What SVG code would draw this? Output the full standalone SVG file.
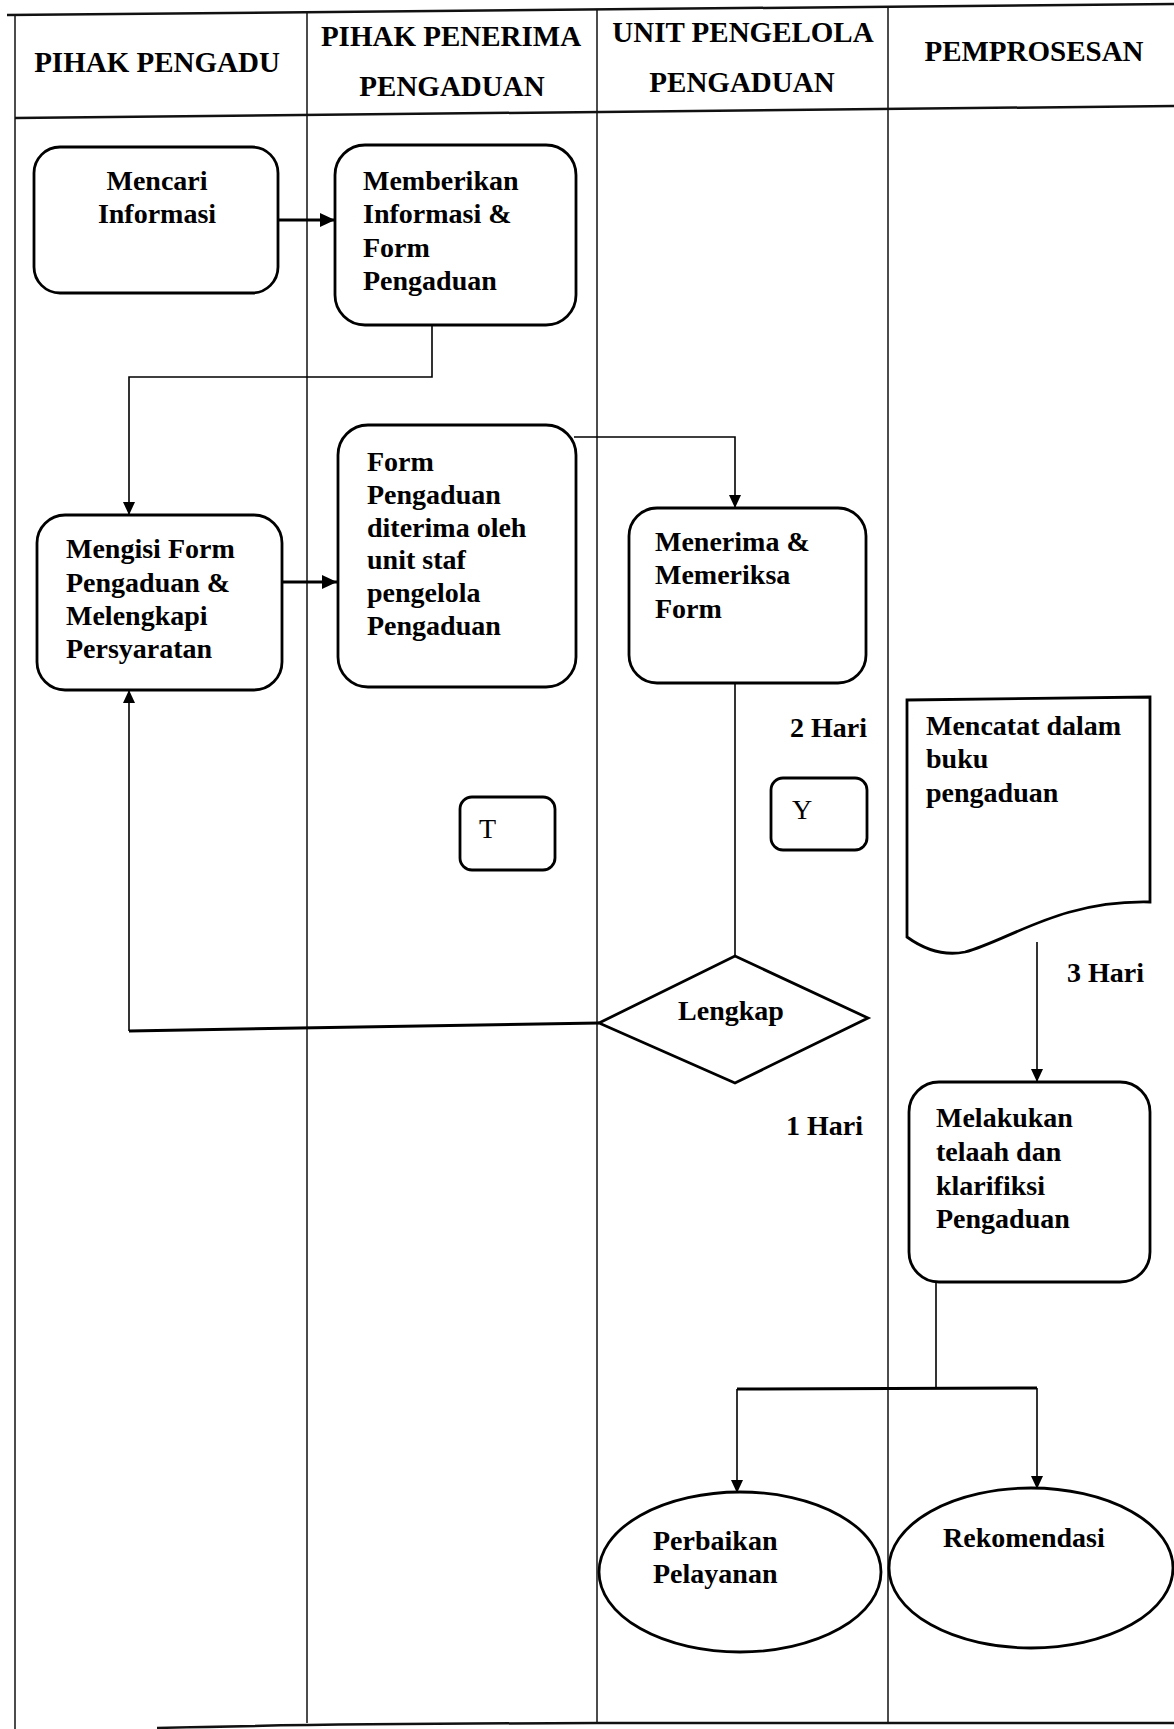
<svg xmlns="http://www.w3.org/2000/svg" width="1174" height="1729" viewBox="0 0 1174 1729">
<defs>
<marker id="arr" markerUnits="userSpaceOnUse" markerWidth="14" markerHeight="12" refX="13" refY="6" orient="auto"><path d="M0,0 L13,6 L0,12 z" fill="#000"/></marker>
<marker id="arrB" markerUnits="userSpaceOnUse" markerWidth="16" markerHeight="14" refX="15" refY="7" orient="auto"><path d="M0,0 L15,7 L0,14 z" fill="#000"/></marker>
</defs>
<style>
.frame{stroke:#111;stroke-width:2.5;fill:none}
.lane{stroke:#111;stroke-width:1.5;fill:none}
.box{fill:#fff;stroke:#000;stroke-width:2.8}
.t{font-family:"Liberation Serif","Times New Roman",serif;font-weight:bold;font-size:28px;fill:#000}
.h{font-size:29px;text-anchor:middle}
.m{text-anchor:middle}
.r{font-weight:normal}
.c{stroke:#000;stroke-width:1.6;fill:none}
.ck{stroke:#000;stroke-width:3;fill:none}
</style>
<rect width="1174" height="1729" fill="#fff"/>
<g id="lanes">
<path class="frame" d="M7,15 L1174,4"/>
<path class="frame" d="M15,118 L1174,106"/>
<path class="lane" d="M15,15 L15,1729"/>
<path class="lane" d="M307,12 L307,1723"/>
<path class="lane" d="M597,9 L597,1723"/>
<path class="lane" d="M888,7 L888,1723"/>
<path class="frame" d="M157,1728 Q300,1724 597,1723 L1174,1723"/>
<text class="t h" x="157" y="72">PIHAK PENGADU</text>
<text class="t h" x="451" y="46">PIHAK PENERIMA</text>
<text class="t h" x="452" y="96">PENGADUAN</text>
<text class="t h" x="743" y="42">UNIT PENGELOLA</text>
<text class="t h" x="742" y="92">PENGADUAN</text>
<text class="t h" x="1034" y="61">PEMPROSESAN</text>
</g>
<g id="connectors">
<path class="ck" d="M278,220 L335,220" marker-end="url(#arrB)"/>
<path class="c" d="M432,325 L432,377 L129,377 L129,515" marker-end="url(#arr)"/>
<path class="ck" d="M282,582 L337,582" marker-end="url(#arrB)"/>
<path class="c" d="M574,437 L735,437 L735,508" marker-end="url(#arr)"/>
<path class="c" d="M735,683 L735,956"/>
<path class="ck" d="M599,1023 L129,1031"/>
<path class="c" d="M129,1031 L129,690" marker-end="url(#arr)"/>
<path class="c" d="M1037,942 L1037,1082" marker-end="url(#arr)"/>
<path class="c" d="M936,1282 L936,1389"/>
<path class="ck" d="M737,1389 L1037,1388"/>
<path class="c" d="M737,1389 L737,1493" marker-end="url(#arr)"/>
<path class="c" d="M1037,1388 L1037,1489" marker-end="url(#arr)"/>
<text class="t" x="790" y="737">2 Hari</text>
<text class="t" x="1067" y="982">3 Hari</text>
<text class="t" x="786" y="1135">1 Hari</text>
</g>
<g id="mencari">
<rect class="box" x="34" y="147" width="244" height="146" rx="26"/>
<text class="t m" x="157" y="190">Mencari</text>
<text class="t m" x="157" y="223">Informasi</text>
</g>
<g id="memberikan">
<rect class="box" x="335" y="145" width="241" height="180" rx="30"/>
<text class="t" x="363" y="190">Memberikan</text>
<text class="t" x="363" y="223">Informasi &amp;</text>
<text class="t" x="363" y="257">Form</text>
<text class="t" x="363" y="290">Pengaduan</text>
</g>
<g id="mengisi">
<rect class="box" x="37" y="515" width="245" height="175" rx="28"/>
<text class="t" x="66" y="558">Mengisi Form</text>
<text class="t" x="66" y="592">Pengaduan &amp;</text>
<text class="t" x="66" y="625">Melengkapi</text>
<text class="t" x="66" y="658">Persyaratan</text>
</g>
<g id="form-diterima">
<rect class="box" x="338" y="425" width="238" height="262" rx="30"/>
<text class="t" x="367" y="471">Form</text>
<text class="t" x="367" y="504">Pengaduan</text>
<text class="t" x="367" y="537">diterima oleh</text>
<text class="t" x="367" y="569">unit staf</text>
<text class="t" x="367" y="602">pengelola</text>
<text class="t" x="367" y="635">Pengaduan</text>
</g>
<g id="menerima">
<rect class="box" x="629" y="508" width="237" height="175" rx="28"/>
<text class="t" x="655" y="551">Menerima &amp;</text>
<text class="t" x="655" y="584">Memeriksa</text>
<text class="t" x="655" y="618">Form</text>
</g>
<g id="t-box">
<rect class="box" x="460" y="797" width="95" height="73" rx="12"/>
<text class="t r" x="479" y="838">T</text>
</g>
<g id="y-box">
<rect class="box" x="771" y="778" width="96" height="72" rx="12"/>
<text class="t r" x="792" y="819">Y</text>
</g>
<g id="mencatat">
<path class="box" d="M907,700 L1150,697 L1150,902 C1060,900 1010,940 965,952 C945,956 925,950 907,937 Z"/>
<text class="t" x="926" y="735">Mencatat dalam</text>
<text class="t" x="926" y="768">buku</text>
<text class="t" x="926" y="802">pengaduan</text>
</g>
<g id="lengkap">
<polygon class="box" points="599,1023 735,956 868,1018 735,1083"/>
<text class="t m" x="731" y="1020">Lengkap</text>
</g>
<g id="melakukan">
<rect class="box" x="909" y="1082" width="241" height="200" rx="30"/>
<text class="t" x="936" y="1127">Melakukan</text>
<text class="t" x="936" y="1161">telaah dan</text>
<text class="t" x="936" y="1195">klarifiksi</text>
<text class="t" x="936" y="1228">Pengaduan</text>
</g>
<g id="perbaikan">
<ellipse class="box" cx="740" cy="1572" rx="141" ry="80"/>
<text class="t" x="653" y="1550">Perbaikan</text>
<text class="t" x="653" y="1583">Pelayanan</text>
</g>
<g id="rekomendasi">
<ellipse class="box" cx="1031" cy="1568" rx="142" ry="80"/>
<text class="t" x="943" y="1547">Rekomendasi</text>
</g>
</svg>
